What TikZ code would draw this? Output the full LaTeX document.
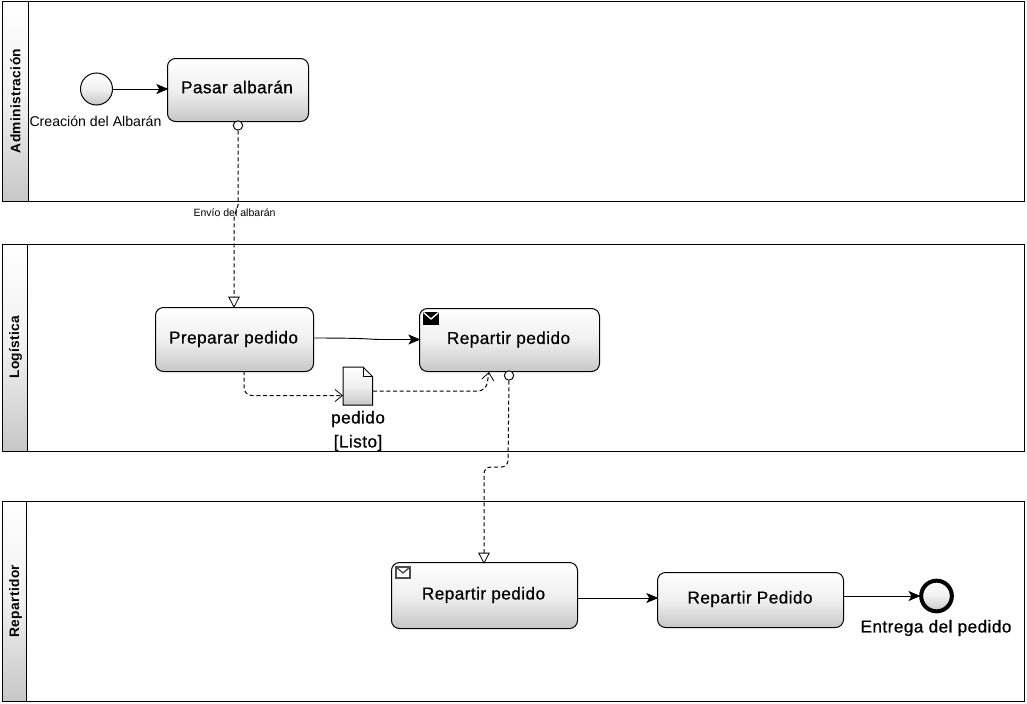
\documentclass[tikz,border=0pt]{standalone}
\usepackage{fontspec}
\setmainfont{Liberation Sans}
\newfontfamily\spaced[LetterSpace=2.5]{Liberation Sans}
\newfontfamily\spacedheavy[LetterSpace=2.5,FakeBold=0.6]{Liberation Sans}
\usetikzlibrary{arrows.meta,shapes.geometric,positioning,calc}
\tikzset{
  x=0.75pt,y=-0.75pt,
  line/.style={line width=0.75pt,draw=black},
  grad/.style={top color=white,bottom color=black!22,middle color=black!6},
  pool/.style={draw=black,line width=0.75pt,rectangle,inner sep=0pt,anchor=north west,fill=white},
  lanehead/.style={draw=black,line width=0.75pt,rectangle,inner sep=0pt,anchor=north west,grad},
  lanetext/.style={rotate=90,font=\spaced\bfseries\fontsize{10.3}{12}\selectfont,inner sep=0pt},
  task/.style={draw=black,line width=0.75pt,rectangle,rounded corners=6pt,grad,inner sep=0pt,anchor=north west},
  tasktext/.style={font=\spacedheavy\fontsize{12.9}{15}\selectfont,inner sep=0pt},
  event/.style={circle,draw=black,grad,inner sep=0pt,minimum size=24pt},
  seqflow/.style={line width=0.7pt,shorten >=-1pt,-{Stealth[inset=2.2pt,length=9pt,width=7.5pt]}},
  msgflow/.style={line width=0.75pt,dash pattern=on 3pt off 2pt,shorten >=-0.7pt,-{Triangle[open,fill=white,length=8.4pt,width=8.6pt,line width=0.6pt]},rounded corners=5pt},
  assoc/.style={line width=0.75pt,dash pattern=on 3pt off 2pt,-{Straight Barb[length=5.5pt,width=9pt,line width=0.6pt]},rounded corners=6pt},
  ringnode/.style={circle,draw=black,fill=white,line width=0.7pt,inner sep=0pt,minimum size=7pt},
}
\begin{document}
\begin{tikzpicture}
\useasboundingbox (0,0) rectangle (1027,703);
% pools
\node[pool,minimum width=1021.5*0.75pt,minimum height=200*0.75pt] (p1) at (2,1) {};
\node[lanehead,minimum width=25.5*0.75pt,minimum height=200*0.75pt] (h1) at (2,1) {};
\node[lanetext] (t1) at (15.5,101) {Administración};
\node[pool,minimum width=1021.5*0.75pt,minimum height=207*0.75pt] (p2) at (2,244) {};
\node[lanehead,minimum width=25*0.75pt,minimum height=207*0.75pt] (h2) at (2,244) {};
\node[lanetext] (t2) at (15.5,347) {Logística};
\node[pool,minimum width=1021.5*0.75pt,minimum height=200*0.75pt] (p3) at (2,501) {};
\node[lanehead,minimum width=24*0.75pt,minimum height=200*0.75pt] (h3) at (2,501) {};
\node[lanetext] (t3) at (15.5,601) {Repartidor};
% tasks
\node[task,minimum width=141*0.75pt,minimum height=63*0.75pt] (pasar) at (167,58) {};
\node[tasktext] (pasart) at (237,87) {Pasar albarán};
\node[task,minimum width=158*0.75pt,minimum height=64*0.75pt] (prep) at (155,307) {};
\node[tasktext] (prept) at (233.5,339) {Preparar pedido};
\node[task,minimum width=180*0.75pt,minimum height=63*0.75pt] (rep1) at (419,308) {};
\node[tasktext] (rep1t) at (508.5,339.5) {Repartir pedido};
\node[task,minimum width=186*0.75pt,minimum height=66*0.75pt] (rep2) at (391,562) {};
\node[tasktext] (rep2t) at (483.5,595) {Repartir pedido};
\node[task,minimum width=186*0.75pt,minimum height=55*0.75pt] (rep3) at (657,572) {};
\node[tasktext] (rep3t) at (750,599) {Repartir Pedido};
% events
\node[event,line width=0.75pt] (start) at (96.5,89) {};
\node[font=\fontsize{10.6}{12}\selectfont,inner sep=0pt] (startl) at (95.5,121) {Creación del Albarán};
\node[event,line width=3pt,minimum size=23pt] (end) at (936.5,596) {};
\node[tasktext] (endl) at (936,628) {Entrega del pedido};
% document
\filldraw[line,grad] (343,367) -- (363,367) -- (372.5,376.5) -- (372.5,405) -- (343,405) -- cycle;
\draw[line,line width=0.6pt] (363,367) -- (363,376.5) -- (372.5,376.5);
\node[inner sep=0pt,minimum width=29.5*0.75pt,minimum height=38*0.75pt,anchor=north west] (doc) at (343,367) {};
\node[tasktext] (docl1) at (358,419) {pedido};
\node[tasktext] (docl2) at (358,443) {[Listo]};
% envelopes
\fill[black] (423,312) rectangle (439,325);
\draw[white,line width=1pt] (423.5,312.5) -- (431,319) -- (438.5,312.5);
\draw[black!70,line width=1pt,fill=white] (396,567) rectangle (410,578);
\draw[black!70,line width=1pt] (396,567) -- (403,573) -- (410,567);
% sequence flows
\draw[seqflow] (start) -- (pasar.west |- start);
\draw[seqflow] (prep.east |- 0,338) .. controls (370,338) and (370,339.5) .. (380,339.5) -- (rep1.west |- 0,339.5);
\draw[seqflow] (rep2.east |- 0,598) -- (rep3.west |- 0,598);
\draw[seqflow] (rep3.east |- 0,596) -- (end.west);
% message flows
\node[ringnode] (ring1) at (238,125.5) {};
\node[inner sep=0pt,font=\fontsize{7.9}{9}\selectfont] (envio) at (234.5,212.5) {Envío del albarán};
\coordinate (jog1) at (238,205);
\coordinate (jog2) at (234,218);
\draw[msgflow,rounded corners=0pt] (ring1) -- (jog1) -- (jog2) -- (jog2 |- prep.north);
\node[ringnode] (ring2) at (509,375.5) {};
\draw[msgflow] (ring2) -- (508,467) -- (484,467) -- (484,563);
% associations
\draw[assoc] (244,371) -- (244,395.5) -- (doc.west |- 0,395.5);
\draw[assoc] (doc.east |- 0,391) -- (486,391) -- (489,372);
\end{tikzpicture}
\end{document}
